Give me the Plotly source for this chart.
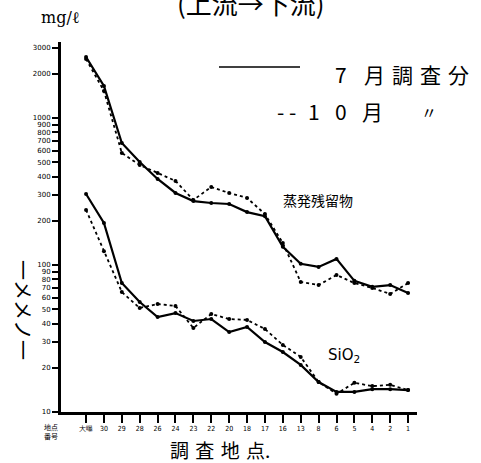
import plotly.graph_objects as go

sites = ["大曝", "30", "29", "28", "26", "24", "23", "22", "20", "18",
         "17", "16", "13", "8", "6", "5", "4", "2", "1"]

residue_jul = [2600, 1650, 676, 502, 385, 309, 272, 264, 260, 229,
               215, 133, 102, 97, 110, 78, 71, 73, 64.5]
residue_oct = [2520, 1527, 578, 479, 423, 373, 277, 339, 309, 286,
               222, 141, 76.6, 73.1, 85.5, 75.4, 69.8, 63.5, 75.4]
sio2_jul = [304, 193, 75.4, 56.0, 44.3, 47.1, 41.6, 42.9, 35.0, 37.9,
            29.9, 25.6, 20.9, 16.0, 13.7, 13.7, 14.3, 14.3, 14.1]
sio2_oct = [237, 124, 65.5, 51.0, 54.3, 52.6, 37.3, 46.4, 42.9, 42.3,
            36.7, 28.6, 23.7, 16.0, 13.3, 15.8, 15.0, 15.3, 14.1]

ytick_vals = [10, 20, 30, 40, 50, 60, 70, 80, 90, 100,
              200, 300, 400, 500, 600, 700, 800, 900, 1000, 2000, 3000]
ytick_text = [str(v) for v in ytick_vals]

x = list(range(len(sites)))

fig = go.Figure()
solid = dict(color="black", width=2.2)
dotted = dict(color="black", width=1.8, dash="dot")
for ys, ln in [(residue_jul, solid), (residue_oct, dotted),
               (sio2_jul, solid), (sio2_oct, dotted)]:
    fig.add_trace(go.Scatter(x=x, y=ys, mode="lines+markers", line=ln,
                             marker=dict(color="black", size=4),
                             showlegend=False, hoverinfo="skip"))

fig.update_layout(
    width=481, height=463,
    margin=dict(l=61, r=64, t=42, b=51),
    paper_bgcolor="white", plot_bgcolor="white",
    xaxis=dict(range=[-1.4, 18.5], tickvals=x, ticktext=sites,
               showgrid=False, zeroline=False,
               showline=True, linecolor="black", linewidth=3,
               ticks="outside", ticklen=8, tickwidth=2, tickcolor="black",
               tickfont=dict(size=7, family="DejaVu Sans Condensed", color="black"),
               fixedrange=True),
    yaxis=dict(type="log", range=[1, 3.517], tickvals=ytick_vals,
               ticktext=ytick_text, showgrid=False, zeroline=False,
               showline=True, linecolor="black", linewidth=3,
               ticks="outside", ticklen=6, tickwidth=2, tickcolor="black",
               tickfont=dict(size=7, family="DejaVu Sans", color="black"),
               fixedrange=True),
)

def px(v):
    return (v - 61) / 356

def py(v):
    return (412 - v) / 370

jp = "Noto Sans CJK JP"
sp = "\u2004"
ann = [
    dict(text="(上流→下流)", x=px(251), y=py(2), size=26, family=jp),
    dict(text="mg/ℓ", x=px(60), y=py(17), size=16, family="DejaVu Serif"),
    dict(text="7", x=px(341), y=py(74), size=21, family=jp),
    dict(text="月" + sp + "調" + sp + "査" + sp + "分", x=px(416), y=py(74), size=21, family=jp),
    dict(text="- -", x=px(286), y=py(111), size=21, family=jp),
    dict(text="1", x=px(314), y=py(111), size=21, family=jp),
    dict(text="0", x=px(341), y=py(111), size=21, family=jp),
    dict(text="月", x=px(372), y=py(111), size=21, family=jp),
    dict(text="〃", x=px(429), y=py(112), size=16, family=jp),
    dict(text="蒸発残留物", x=px(318), y=py(200), size=14, family=jp),
    dict(text="SiO<sub>2</sub>", x=px(344), y=py(355), size=15, family="DejaVu Sans"),
    dict(text="地点<br>番号", x=px(51), y=py(432), size=7, family=jp),
    dict(text="調" + sp + "査" + sp + "地" + sp + "点.", x=px(220), y=py(449), size=19, family=jp),
    dict(text="一メメノ一", x=px(24), y=py(310), size=20, family=jp, textangle=90),
]
for a in ann:
    size = a.pop("size")
    fam = a.pop("family")
    a.update(xref="paper", yref="paper", showarrow=False,
             xanchor="center", yanchor="middle",
             font=dict(size=size, family=fam, color="black"))
    fig.add_annotation(**a)

fig.add_shape(type="line", xref="paper", yref="paper",
              x0=px(219), x1=px(300), y0=py(67), y1=py(67),
              line=dict(color="black", width=1.5))

fig.write_html("out.html")
